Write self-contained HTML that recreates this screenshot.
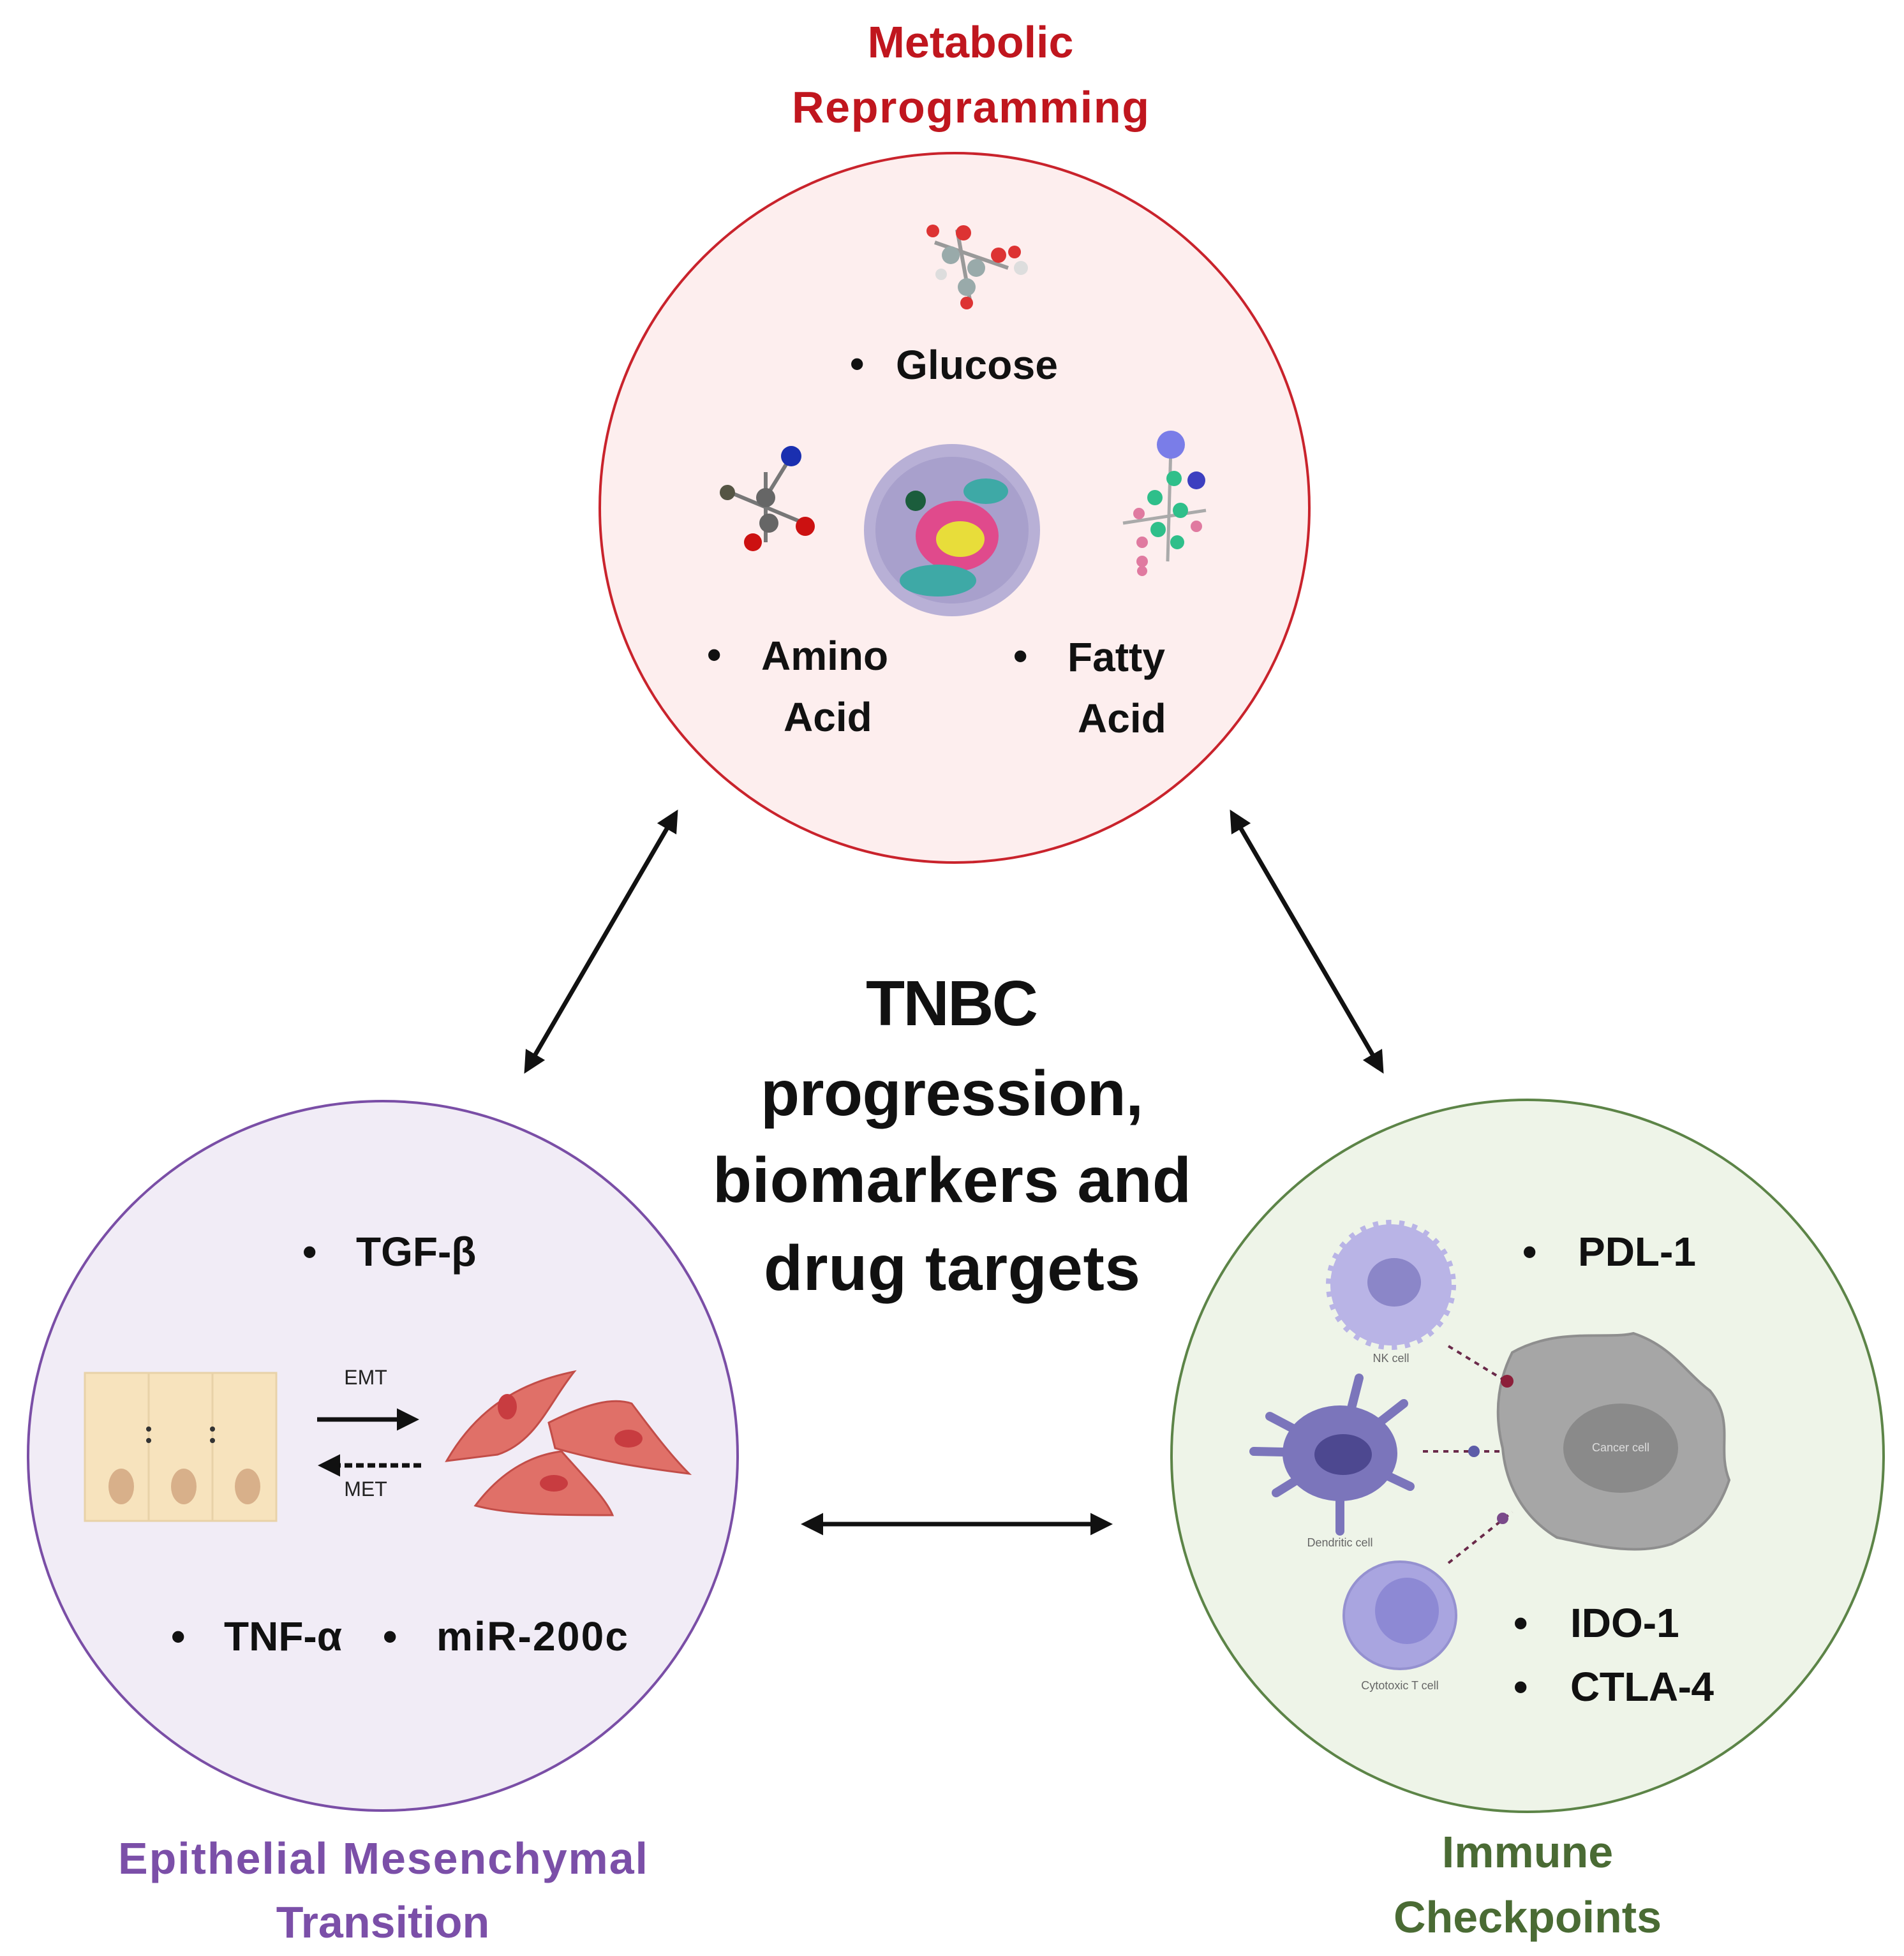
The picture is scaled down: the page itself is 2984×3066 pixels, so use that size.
<!DOCTYPE html>
<html><head><meta charset="utf-8"><style>
html,body{margin:0;padding:0;background:#fff}
svg{display:block}
text{font-family:"Liberation Sans",sans-serif;font-weight:bold}
</style></head><body>
<svg width="2984" height="3066" viewBox="0 0 2984 3066" xmlns="http://www.w3.org/2000/svg">
<defs>
<marker id="ah" viewBox="0 0 10 10" refX="8" refY="5" markerWidth="5" markerHeight="5" orient="auto-start-reverse"><path d="M0,0 L10,5 L0,10 z" fill="#111"/></marker>
</defs>
<!-- circles -->
<circle cx="1496" cy="796" r="556" fill="#fdeeee" stroke="#c9232c" stroke-width="4"/>
<circle cx="600" cy="2282" r="556" fill="#f1ecf6" stroke="#7a4ea6" stroke-width="4"/>
<circle cx="2394" cy="2282" r="558" fill="#eef4e8" stroke="#5c8447" stroke-width="4"/>

<!-- titles -->
<text x="1521" y="90" font-size="70" fill="#c0161e" text-anchor="middle">Metabolic</text>
<text x="1521" y="192" font-size="70" fill="#c0161e" text-anchor="middle" textLength="560">Reprogramming</text>
<text x="600" y="2937" font-size="70" fill="#7b4fa8" text-anchor="middle" textLength="830">Epithelial Mesenchymal</text>
<text x="600" y="3037" font-size="70" fill="#7b4fa8" text-anchor="middle">Transition</text>
<text x="2394" y="2927" font-size="70" fill="#4a6b34" text-anchor="middle">Immune</text>
<text x="2394" y="3029" font-size="70" fill="#4a6b34" text-anchor="middle" textLength="420">Checkpoints</text>

<!-- center -->
<text x="1492" y="1607" font-size="100" fill="#111" text-anchor="middle" textLength="270">TNBC</text>
<text x="1492" y="1748" font-size="100" fill="#111" text-anchor="middle" textLength="600">progression,</text>
<text x="1492" y="1884" font-size="100" fill="#111" text-anchor="middle" textLength="750">biomarkers and</text>
<text x="1492" y="2022" font-size="100" fill="#111" text-anchor="middle" textLength="590">drug targets</text>

<!-- arrows -->
<g stroke="#111" stroke-width="7" fill="none">
<line x1="1059" y1="1275" x2="825" y2="1677" marker-start="url(#ah)" marker-end="url(#ah)"/>
<line x1="1931" y1="1275" x2="2165" y2="1677" marker-start="url(#ah)" marker-end="url(#ah)"/>
<line x1="1262" y1="2389" x2="1737" y2="2389" marker-start="url(#ah)" marker-end="url(#ah)"/>
</g>

<!-- metabolic content -->
<g font-size="64" fill="#111">
<text x="1332" y="592">•</text><text x="1404" y="594" textLength="254">Glucose</text>
<text x="1108" y="1048">•</text><text x="1193" y="1050">Amino</text><text x="1228" y="1146">Acid</text>
<text x="1588" y="1050">•</text><text x="1673" y="1052">Fatty</text><text x="1689" y="1148">Acid</text>
</g>
<!-- glucose molecule -->
<g>
<line x1="1465" y1="380" x2="1580" y2="420" stroke="#999" stroke-width="6"/>
<line x1="1500" y1="360" x2="1520" y2="470" stroke="#999" stroke-width="6"/>
<circle cx="1462" cy="362" r="10" fill="#d33"/><circle cx="1510" cy="365" r="12" fill="#d33"/>
<circle cx="1490" cy="400" r="14" fill="#9aa"/><circle cx="1530" cy="420" r="14" fill="#9aa"/>
<circle cx="1565" cy="400" r="12" fill="#d33"/><circle cx="1600" cy="420" r="11" fill="#ddd"/>
<circle cx="1515" cy="450" r="14" fill="#9aa"/><circle cx="1515" cy="475" r="10" fill="#d33"/>
<circle cx="1590" cy="395" r="10" fill="#d33"/><circle cx="1475" cy="430" r="9" fill="#ddd"/>
</g>
<!-- amino acid -->
<g>
<line x1="1140" y1="770" x2="1260" y2="820" stroke="#777" stroke-width="6"/>
<line x1="1200" y1="740" x2="1200" y2="850" stroke="#777" stroke-width="6"/>
<line x1="1200" y1="780" x2="1240" y2="715" stroke="#777" stroke-width="6"/>
<circle cx="1240" cy="715" r="16" fill="#1a2fb0"/><circle cx="1200" cy="780" r="15" fill="#666"/>
<circle cx="1205" cy="820" r="15" fill="#666"/><circle cx="1262" cy="825" r="15" fill="#c11"/>
<circle cx="1180" cy="850" r="14" fill="#c11"/><circle cx="1140" cy="772" r="12" fill="#554"/>
</g>
<!-- cancer cell in top -->
<g>
<ellipse cx="1492" cy="831" rx="138" ry="135" fill="#b8b0d6"/>
<ellipse cx="1492" cy="831" rx="120" ry="115" fill="#a8a0cc"/>
<ellipse cx="1500" cy="840" rx="65" ry="55" fill="#e04a8c"/>
<ellipse cx="1505" cy="845" rx="38" ry="28" fill="#e8dd3a"/>
<ellipse cx="1470" cy="910" rx="60" ry="25" fill="#3ea9a6"/>
<ellipse cx="1545" cy="770" rx="35" ry="20" fill="#3ea9a6"/>
<circle cx="1435" cy="785" r="16" fill="#1b5d3c"/>
</g>
<!-- fatty acid -->
<g>
<line x1="1835" y1="700" x2="1830" y2="880" stroke="#aaa" stroke-width="5"/>
<line x1="1760" y1="820" x2="1890" y2="800" stroke="#aaa" stroke-width="5"/>
<circle cx="1835" cy="697" r="22" fill="#7a7de8"/><circle cx="1875" cy="753" r="14" fill="#3d3fc0"/>
<circle cx="1840" cy="750" r="12" fill="#2fbf8a"/><circle cx="1810" cy="780" r="12" fill="#2fbf8a"/>
<circle cx="1850" cy="800" r="12" fill="#2fbf8a"/><circle cx="1815" cy="830" r="12" fill="#2fbf8a"/>
<circle cx="1845" cy="850" r="11" fill="#2fbf8a"/><circle cx="1785" cy="805" r="9" fill="#e07aa0"/>
<circle cx="1790" cy="850" r="9" fill="#e07aa0"/><circle cx="1875" cy="825" r="9" fill="#e07aa0"/>
<circle cx="1790" cy="880" r="9" fill="#e07aa0"/><circle cx="1790" cy="895" r="8" fill="#e07aa0"/>
</g>

<!-- EMT content -->
<g font-size="64" fill="#111">
<text x="474" y="1984">•</text><text x="558" y="1984">TGF-β</text>
<text x="268" y="2587">•</text><text x="351" y="2587">TNF-α</text>
<text x="600" y="2587">•</text><text x="684" y="2587" textLength="300">miR-200c</text>
</g>
<g>
<rect x="133" y="2152" width="100" height="232" fill="#f7e3bd" stroke="#e8d2a8" stroke-width="3"/>
<rect x="233" y="2152" width="100" height="232" fill="#f7e3bd" stroke="#e8d2a8" stroke-width="3"/>
<rect x="333" y="2152" width="100" height="232" fill="#f7e3bd" stroke="#e8d2a8" stroke-width="3"/>
<ellipse cx="190" cy="2330" rx="20" ry="28" fill="#d8b08a"/>
<ellipse cx="288" cy="2330" rx="20" ry="28" fill="#d8b08a"/>
<ellipse cx="388" cy="2330" rx="20" ry="28" fill="#d8b08a"/>
<circle cx="233" cy="2240" r="4" fill="#333"/><circle cx="233" cy="2258" r="4" fill="#333"/>
<circle cx="333" cy="2240" r="4" fill="#333"/><circle cx="333" cy="2258" r="4" fill="#333"/>
</g>
<text x="573" y="2170" font-size="32" font-weight="normal" fill="#222" text-anchor="middle" style="font-weight:normal">EMT</text>
<line x1="497" y1="2225" x2="650" y2="2225" stroke="#111" stroke-width="7" marker-end="url(#ah)"/>
<line x1="660" y1="2297" x2="505" y2="2297" stroke="#111" stroke-width="7" stroke-dasharray="12,6" marker-end="url(#ah)"/>
<text x="573" y="2345" font-size="32" fill="#222" text-anchor="middle" style="font-weight:normal">MET</text>
<g fill="#e07068" stroke="#c24d48" stroke-width="3">
<path d="M700,2290 C740,2220 800,2170 900,2150 C860,2200 840,2260 780,2280 Z"/>
<path d="M860,2230 C920,2200 960,2190 990,2200 C1020,2240 1050,2280 1080,2310 C1000,2300 940,2290 870,2270 Z"/>
<path d="M745,2360 C790,2300 840,2280 880,2275 C920,2320 950,2350 960,2375 C880,2375 800,2375 745,2360 Z"/>
</g>
<g fill="#c83c40"><ellipse cx="795" cy="2205" rx="15" ry="20"/><ellipse cx="985" cy="2255" rx="22" ry="14"/><ellipse cx="868" cy="2325" rx="22" ry="13"/></g>

<!-- Immune content -->
<g font-size="64" fill="#111">
<text x="2386" y="1984">•</text><text x="2473" y="1984">PDL-1</text>
<text x="2372" y="2566">•</text><text x="2461" y="2566">IDO-1</text>
<text x="2372" y="2666">•</text><text x="2461" y="2666" textLength="225">CTLA-4</text>
</g>
<!-- NK cell -->
<g>
<circle cx="2180" cy="2014" r="95" fill="#b9b4e6" stroke="#b9b4e6" stroke-width="14" stroke-dasharray="8,12"/>
<ellipse cx="2185" cy="2010" rx="42" ry="38" fill="#8b86c8"/>
<text x="2180" y="2135" font-size="18" fill="#666" text-anchor="middle" style="font-weight:normal">NK cell</text>
</g>
<!-- dendritic -->
<g stroke="#7b75bb" stroke-width="14" stroke-linecap="round" fill="none">
<path d="M2100,2278 L1990,2220 M2100,2278 L1965,2275 M2100,2278 L2000,2340 M2100,2278 L2100,2400 M2100,2278 L2200,2200 M2100,2278 L2210,2330 M2100,2278 L2130,2160"/>
</g>
<ellipse cx="2100" cy="2278" rx="90" ry="75" fill="#7b75bb"/>
<ellipse cx="2105" cy="2280" rx="45" ry="32" fill="#4d4890"/>
<text x="2100" y="2424" font-size="18" fill="#666" text-anchor="middle" style="font-weight:normal">Dendritic cell</text>
<!-- T cell -->
<ellipse cx="2194" cy="2532" rx="88" ry="84" fill="#a9a5e0" stroke="#9591d0" stroke-width="4"/>
<ellipse cx="2205" cy="2525" rx="50" ry="52" fill="#8d89d4"/>
<text x="2194" y="2648" font-size="18" fill="#666" text-anchor="middle" style="font-weight:normal">Cytotoxic T cell</text>
<!-- cancer cell -->
<path d="M2370,2120 C2440,2080 2520,2100 2560,2090 C2620,2110 2640,2150 2680,2180 C2720,2230 2690,2270 2710,2320 C2690,2380 2660,2400 2620,2420 C2560,2440 2490,2420 2440,2410 C2390,2380 2360,2330 2355,2270 C2340,2210 2350,2160 2370,2120 Z" fill="#a6a6a6" stroke="#8e8e8e" stroke-width="4"/>
<ellipse cx="2540" cy="2270" rx="90" ry="70" fill="#8a8a8a"/>
<text x="2540" y="2275" font-size="18" fill="#ddd" text-anchor="middle" style="font-weight:normal">Cancer cell</text>
<g stroke="#6a2a4a" stroke-width="4" stroke-dasharray="8,8">
<line x1="2270" y1="2110" x2="2360" y2="2165"/>
<line x1="2230" y1="2275" x2="2350" y2="2275"/>
<line x1="2270" y1="2450" x2="2370" y2="2370"/>
</g>
<circle cx="2362" cy="2165" r="10" fill="#8c1f3a"/><circle cx="2310" cy="2275" r="9" fill="#5c5ca8"/><circle cx="2355" cy="2380" r="9" fill="#7a4a8a"/>
</svg>
</body></html>
